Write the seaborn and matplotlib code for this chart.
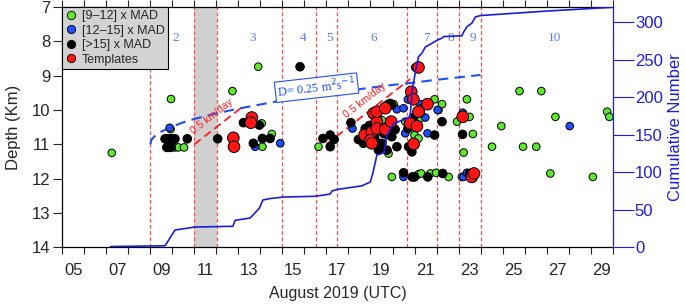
import numpy as np
import pandas as pd
import matplotlib
matplotlib.use("Agg")
import matplotlib.pyplot as plt
from matplotlib.lines import Line2D
from matplotlib.ticker import FixedLocator, NullFormatter, FixedFormatter
import seaborn as sns

# ---------------- data (day of August 2019, depth km) ----------------
green_events = [(7.25, 11.25), (9.94, 9.68), (12.73, 9.45), (9.92, 10.56), (10.12, 11.09),
                (10.27, 11.09), (10.53, 11.09), (13.90, 8.74), (14.06, 10.39), (14.52, 10.70),
                (14.09, 11.07), (16.64, 11.07), (19.21, 10.68), (19.52, 10.30), (19.75, 10.73),
                (19.77, 9.83), (19.82, 11.27), (20.05, 9.83), (20.58, 10.34), (21.00, 10.73),
                (21.03, 8.76), (21.18, 10.83), (21.26, 10.24), (21.91, 9.69), (22.09, 10.00),
                (22.25, 9.83), (22.93, 10.34), (23.23, 11.24), (23.38, 9.69), (23.50, 10.20),
                (23.65, 10.70), (24.52, 11.07), (24.94, 10.47), (25.77, 9.45), (25.93, 11.07),
                (26.53, 11.07), (26.76, 9.45), (27.40, 10.20), (29.75, 10.05), (29.85, 10.20),
                (19.97, 11.95), (21.18, 11.87), (21.30, 11.85), (21.72, 11.85), (21.98, 11.83),
                (22.55, 11.95), (23.15, 11.95), (27.17, 11.85), (29.10, 11.95)]
blue_events = [(9.88, 10.52), (9.97, 11.09), (13.76, 11.07), (14.90, 10.97), (18.18, 10.54),
               (19.67, 10.70), (20.20, 9.98), (20.50, 9.95), (20.58, 10.68), (20.70, 9.69),
               (21.26, 9.83), (21.30, 9.95), (21.49, 10.22), (21.59, 10.68), (22.05, 10.00),
               (23.19, 10.08), (28.05, 10.47), (20.50, 11.95), (23.22, 11.95), (23.38, 11.83)]
black_events = [(9.67, 10.84), (9.82, 10.84), (9.97, 10.84), (10.12, 10.84), (10.68, 10.84),
                (12.06, 10.84), (9.75, 11.09), (9.90, 11.09), (13.23, 10.37), (13.95, 10.44),
                (14.09, 10.83), (14.44, 10.83), (13.68, 10.97), (15.80, 8.74), (16.84, 10.83),
                (17.17, 10.73), (17.17, 11.07), (17.35, 10.86), (18.11, 10.37), (18.45, 10.86),
                (18.68, 10.97), (18.76, 10.54), (18.95, 10.45), (19.20, 10.85), (19.40, 10.45),
                (19.36, 11.17), (19.52, 10.97), (19.59, 10.68), (19.75, 11.17), (19.90, 9.81),
                (19.97, 10.78), (19.97, 9.86), (20.12, 10.57), (20.20, 11.07), (20.70, 10.54),
                (20.73, 11.07), (20.88, 11.22), (20.95, 10.22), (21.26, 10.08), (21.91, 10.73),
                (22.25, 10.34), (23.18, 10.71), (20.50, 11.83), (20.90, 11.95), (21.00, 11.95),
                (21.60, 11.95), (22.28, 11.85), (23.50, 11.85)]
template_events = [(12.77, 10.81), (12.80, 11.07), (13.61, 10.22), (13.56, 10.37), (18.73, 10.73),
                   (19.14, 10.10), (19.29, 10.34), (19.06, 10.64), (18.99, 10.88), (19.06, 10.97),
                   (19.29, 10.05), (19.29, 10.54), (19.67, 9.95), (19.67, 10.57), (19.94, 10.34),
                   (20.80, 10.39), (20.85, 9.47), (20.95, 9.69), (20.96, 10.99), (21.11, 10.47),
                   (21.18, 10.05), (21.18, 8.76), (21.59, 9.83), (23.19, 10.20), (23.60, 11.95),
                   (23.70, 11.85)]

cum_day = [7.2, 9.67, 9.82, 10.12, 11.03, 12.75, 12.85, 13.53, 13.76, 13.95, 14.11, 14.44,
           15.05, 16.49, 17.17, 17.25, 17.47, 18.61, 18.99, 19.11, 19.29, 19.62, 19.75, 20.05,
           20.5, 20.8, 20.9, 21.03, 21.18, 21.34, 21.49, 21.79, 22.02, 22.25, 22.32, 23.15,
           23.23, 23.38, 23.61, 23.76, 23.99, 27.02, 29.97]
cum_n = [1, 2, 9, 23, 27, 28, 36, 39, 46, 52, 63, 65, 67, 68, 71, 75, 77, 82, 87, 99, 123,
         126, 150, 165, 170, 174, 210, 232, 254, 259, 267, 272, 276, 279, 281, 282, 287, 294,
         299, 307, 309, 315, 320]

diff_day = [9.0, 9.05, 9.2, 9.5, 10.0, 10.5, 11.0, 12.0, 13.0, 14.0, 15.0, 16.0, 17.0, 18.0,
            19.0, 20.0, 21.0, 22.0, 23.0, 24.0]
diff_depth = [11.0, 10.87, 10.76, 10.63, 10.48, 10.36, 10.26, 10.10, 9.96, 9.84, 9.72, 9.62,
              9.53, 9.44, 9.35, 9.27, 9.20, 9.12, 9.05, 8.98]

mig1_day, mig1_depth = [11.0, 13.1], [11.0, 9.95]
mig2_day, mig2_depth = [17.0, 20.8], [11.0, 9.10]

boundaries = [9.0, 11.0, 12.02, 15.0, 16.52, 17.5, 20.68, 22.02, 23.02, 24.02]
shade = (11.0, 12.02)
region_labels = ["2", "3", "4", "5", "6", "7", "8", "9", "10"]
region_x = [10.15, 13.65, 15.92, 17.14, 19.14, 21.56, 22.65, 23.65, 27.35]

xtick_days = [5.5, 7.5, 9.5, 11.5, 13.5, 15.5, 17.5, 19.5, 21.5, 23.5, 25.5, 27.5, 29.5]
xtick_labels = ["05", "07", "09", "11", "13", "15", "17", "19", "21", "23", "25", "27", "29"]

legend_labels = ["[9\u201312] x MAD", "[12\u201315] x MAD", "[>15] x MAD", "Templates"]

# ---------------- style ----------------
sns.set_style("ticks")
plt.rcParams['font.family'] = ['Liberation Sans', 'DejaVu Sans']
GREEN, BLUEPT, BLACK, RED = "#5ee830", "#1f4dff", "#000000", "#ff1414"
AXBLUE = "#1c1cdc"
LABBLUE = "#5a7cf0"

fig = plt.figure(figsize=(6.85, 3.07), dpi=100)
ax = fig.add_axes([0.0909, 0.1945, 0.8035, 0.7827])

frames = []
for cls, ev in zip(legend_labels, [green_events, blue_events, black_events, template_events]):
    frames.append(pd.DataFrame(ev, columns=["day", "depth"]).assign(cls=cls))
df = pd.concat(frames, ignore_index=True)
palette = dict(zip(legend_labels, [GREEN, BLUEPT, BLACK, RED]))
sizes = dict(zip(legend_labels, [30, 30, 38, 70]))

ax.axvspan(*shade, color="#d0d0d0", zorder=0.5, lw=0)
for b in boundaries:
    ax.axvline(b, color="#ff4a4a", lw=0.9, ls=(0, (3, 2)), zorder=1)

sns.scatterplot(data=df, x="day", y="depth", hue="cls", palette=palette, size="cls",
                sizes=sizes, edgecolor="black", linewidth=0.7, legend=False, ax=ax, zorder=3)

ax.plot(diff_day, diff_depth, color="#2050ee", lw=1.5, ls=(0, (5, 3)), zorder=2)
ax.plot(mig1_day, mig1_depth, color="#ff2020", lw=1.3, ls=(0, (4.5, 2.5)), zorder=2)
ax.plot(mig2_day, mig2_depth, color="#ff2020", lw=1.3, ls=(0, (4.5, 2.5)), zorder=2)

ax.text(11.78, 10.20, "0.5 km/day", color="#ff2020", fontsize=7.5, rotation=38,
        ha="center", va="center", rotation_mode="anchor")
ax.text(18.75, 9.72, "0.5 km/day", color="#ff2020", fontsize=7.5, rotation=38,
        ha="center", va="center", rotation_mode="anchor")
ax.text(16.55, 9.35, "D= 0.25 m$^2$s$^{-1}$", color="#2050ee", fontsize=9,
        family=["Liberation Serif", "DejaVu Serif"], rotation=6.5, ha="center", va="center",
        rotation_mode="anchor",
        bbox=dict(boxstyle="square,pad=0.15", fc="white", ec="#2050ee", lw=0.8), zorder=4)
for lab, xx in zip(region_labels, region_x):
    ax.text(xx, 7.9, lab, color=LABBLUE, fontsize=9.5, ha="center", va="center",
            family=["Liberation Serif", "DejaVu Serif"])

ax.set_xlim(5, 30)
ax.set_ylim(14, 7)
ax.xaxis.set_major_locator(FixedLocator(np.arange(5, 31)))
ax.xaxis.set_major_formatter(NullFormatter())
ax.xaxis.set_minor_locator(FixedLocator(xtick_days))
ax.xaxis.set_minor_formatter(FixedFormatter(xtick_labels))
ax.tick_params(axis="x", which="major", direction="out", length=5, width=0.8, top=True,
               bottom=True)
ax.tick_params(axis="x", which="minor", length=0, pad=11, labelsize=12, top=False)
ax.set_yticks(np.arange(7, 15))
ax.tick_params(axis="y", direction="out", length=6.5, width=0.8, pad=2, labelsize=12)
ax.set_xlabel("August 2019 (UTC)", fontsize=11.5, labelpad=6)
ax.set_ylabel("Depth (Km)", fontsize=12, labelpad=8)
for s in ["left", "top", "bottom"]:
    ax.spines[s].set_linewidth(0.9)
    ax.spines[s].set_color("black")
ax.spines["right"].set_visible(False)

handles = [Line2D([0], [0], marker="o", ls="", markerfacecolor=c, markeredgecolor="black",
                  markeredgewidth=0.6, markersize=6) for c in [GREEN, BLUEPT, BLACK, RED]]
leg = ax.legend(handles, legend_labels, loc="upper left", bbox_to_anchor=(0, 1),
                borderaxespad=0, frameon=True, fancybox=False, framealpha=1,
                facecolor="#d3d3d3", edgecolor="black", fontsize=9, labelspacing=0.2,
                handlelength=0.9, handletextpad=0.4, borderpad=0.25)
leg.get_frame().set_linewidth(0.8)
leg.set_zorder(6)

ax2 = ax.twinx()
sns.lineplot(x=cum_day, y=cum_n, ax=ax2, color=AXBLUE, lw=1.2)
ax2.set_ylim(0, 320.4)
ax2.set_yticks(np.arange(0, 301, 50))
ax2.tick_params(axis="y", colors=AXBLUE, direction="out", length=15, width=0.8, pad=1,
                labelsize=12)
ax2.set_ylabel("Cumulative Number", color=AXBLUE, fontsize=12, labelpad=4)
for s in ["left", "top", "bottom"]:
    ax2.spines[s].set_visible(False)
ax2.spines["right"].set_color(AXBLUE)
ax2.spines["right"].set_linewidth(0.9)

fig.savefig("out.png", dpi=100)
